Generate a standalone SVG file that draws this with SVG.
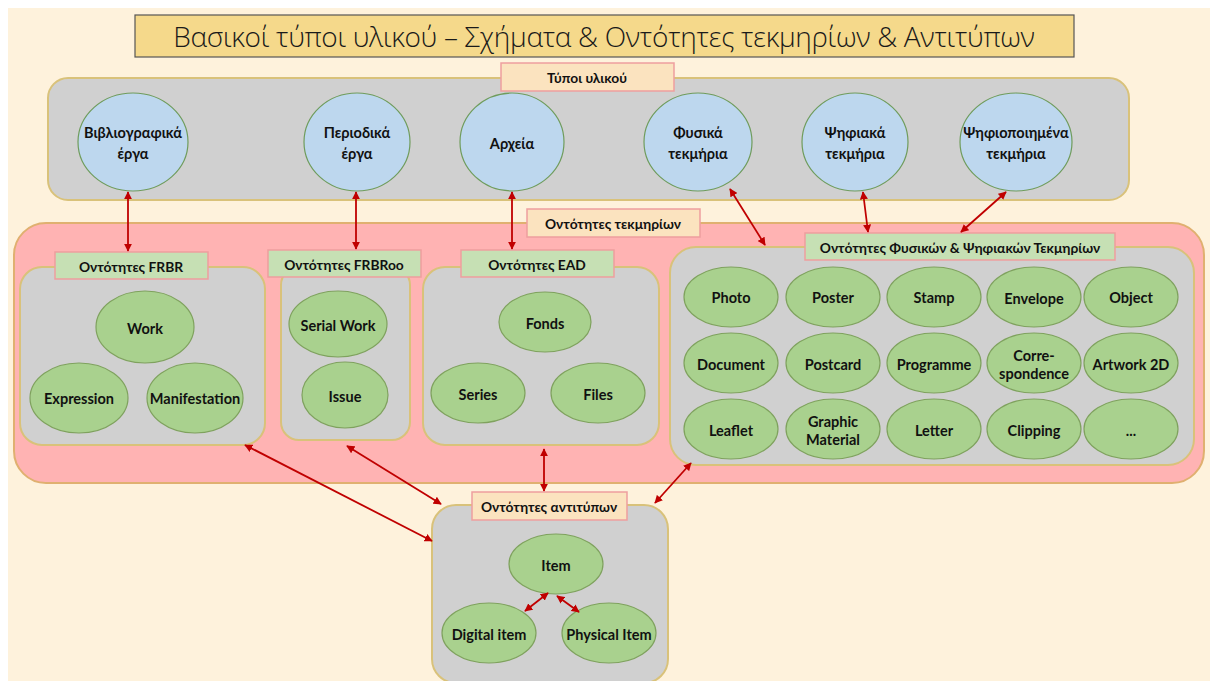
<svg xmlns="http://www.w3.org/2000/svg" width="1210" height="681" viewBox="0 0 1210 681">
<style>
.t{font-family:Lato,"Open Sans","Liberation Sans",sans-serif;font-weight:bold;font-size:14.5px;fill:#111;text-anchor:middle;dominant-baseline:central}
.lbl{font-family:Lato,"Open Sans","Liberation Sans",sans-serif;font-weight:bold;font-size:13.8px;fill:#111;text-anchor:middle;dominant-baseline:central}
.panel{fill:#D0D0D0;stroke:#D9C27A;stroke-width:2}
.blue{fill:#BDD7EE;stroke:#6F9C5C;stroke-width:1.2}
.green{fill:#A9D18E;stroke:#7FA25E;stroke-width:1.2}
.lbo{fill:#FBE3BF;stroke:#EE9E9E;stroke-width:1.5}
.lbg{fill:#C6E0B4;stroke:#EE9E9E;stroke-width:1.5}
.c{stroke:#C00000;stroke-width:1.8;fill:none;marker-start:url(#a);marker-end:url(#a)}
</style>
<defs>
<marker id="a" viewBox="0 0 10 10" refX="9" refY="5" markerWidth="4.5" markerHeight="4.5" orient="auto-start-reverse"><path d="M0,0L10,5L0,10z" fill="#C00000"/></marker>
</defs>
<rect x="0" y="0" width="1210" height="681" fill="#FFFFFF"/>
<rect x="8" y="8" width="1202" height="673" fill="#FEF2DC"/>

<g id="title">
<rect x="135" y="15" width="939" height="42" fill="#F5D98B" stroke="#555" stroke-width="1.2"/>
<text x="604" y="36" style="font-family:'Open Sans','Liberation Sans',sans-serif;font-weight:300;font-size:28px;fill:#1a1a1a;text-anchor:middle;dominant-baseline:central;letter-spacing:-0.3px">Βασικοί τύποι υλικού – Σχήματα &amp; Οντότητες τεκμηρίων &amp; Αντιτύπων</text>
</g>

<g id="types-panel">
<rect class="panel" x="48" y="78" width="1081" height="122" rx="20"/>
<rect class="lbo" x="501" y="63" width="173" height="28"/>
<text class="lbl" x="587" y="77">Τύποι υλικού</text>
</g>
<g id="biblio"><ellipse class="blue" cx="133" cy="142" rx="55" ry="49"/><text class="t" x="133" y="132">Βιβλιογραφικά</text><text class="t" x="133" y="153">έργα</text></g>
<g id="periodika"><ellipse class="blue" cx="357" cy="142" rx="53" ry="49"/><text class="t" x="357" y="132">Περιοδικά</text><text class="t" x="357" y="153">έργα</text></g>
<g id="archeia"><ellipse class="blue" cx="512" cy="142" rx="52" ry="49"/><text class="t" x="512" y="143">Αρχεία</text></g>
<g id="fysika"><ellipse class="blue" cx="698" cy="142" rx="54" ry="49"/><text class="t" x="698" y="132">Φυσικά</text><text class="t" x="698" y="153">τεκμήρια</text></g>
<g id="psifiaka"><ellipse class="blue" cx="855" cy="142" rx="53" ry="49"/><text class="t" x="855" y="132">Ψηφιακά</text><text class="t" x="855" y="153">τεκμήρια</text></g>
<g id="psifiopoiimena"><ellipse class="blue" cx="1016" cy="142" rx="56" ry="49"/><text class="t" x="1016" y="132">Ψηφιοποιημένα</text><text class="t" x="1016" y="153">τεκμήρια</text></g>

<g id="entities-panel">
<rect x="14" y="223" width="1190" height="260" rx="32" fill="#FFB3B3" stroke="#E0B070" stroke-width="2"/>
<rect class="lbo" x="527" y="209" width="173" height="28"/>
<text class="lbl" x="613" y="223">Οντότητες τεκμηρίων</text>
</g>

<g id="frbr">
<rect class="panel" x="20" y="267" width="245" height="178" rx="22"/>
<rect class="lbg" x="55" y="252" width="153" height="27"/>
<text class="lbl" x="131" y="266">Οντότητες FRBR</text>
<ellipse class="green" cx="145" cy="327" rx="49" ry="36"/><text class="t" x="145" y="328">Work</text>
<ellipse class="green" cx="79" cy="398" rx="49" ry="35"/><text class="t" x="79" y="398">Expression</text>
<ellipse class="green" cx="195" cy="398" rx="48" ry="35"/><text class="t" x="195" y="398">Manifestation</text>
</g>

<g id="frbroo">
<rect class="panel" x="281" y="267" width="129" height="173" rx="18"/>
<rect class="lbg" x="268" y="250" width="153" height="27"/>
<text class="lbl" x="344" y="264">Οντότητες FRBRoo</text>
<ellipse class="green" cx="338" cy="324" rx="49" ry="33"/><text class="t" x="338" y="325">Serial Work</text>
<ellipse class="green" cx="345" cy="395" rx="43" ry="33"/><text class="t" x="345" y="396">Issue</text>
</g>

<g id="ead">
<rect class="panel" x="423" y="267" width="236" height="178" rx="22"/>
<rect class="lbg" x="461" y="250" width="153" height="27"/>
<text class="lbl" x="537" y="264">Οντότητες EAD</text>
<ellipse class="green" cx="545" cy="322" rx="46" ry="30"/><text class="t" x="545" y="323">Fonds</text>
<ellipse class="green" cx="478" cy="393" rx="47" ry="30"/><text class="t" x="478" y="394">Series</text>
<ellipse class="green" cx="598" cy="393" rx="47" ry="30"/><text class="t" x="598" y="394">Files</text>
</g>

<g id="physical-digital">
<rect class="panel" x="670" y="247" width="524" height="218" rx="26"/>
<rect class="lbg" x="805" y="233" width="310" height="27"/>
<text class="lbl" x="960" y="247">Οντότητες Φυσικών &amp; Ψηφιακών Τεκμηρίων</text>
<ellipse class="green" cx="731" cy="297" rx="47" ry="30"/><text class="t" x="731" y="297">Photo</text>
<ellipse class="green" cx="833" cy="297" rx="47" ry="30"/><text class="t" x="833" y="297">Poster</text>
<ellipse class="green" cx="934" cy="297" rx="47" ry="30"/><text class="t" x="934" y="297">Stamp</text>
<ellipse class="green" cx="1034" cy="297" rx="47" ry="30"/><text class="t" x="1034" y="298">Envelope</text>
<ellipse class="green" cx="1131" cy="297" rx="47" ry="30"/><text class="t" x="1131" y="297">Object</text>
<ellipse class="green" cx="731" cy="363" rx="47" ry="30"/><text class="t" x="731" y="364">Document</text>
<ellipse class="green" cx="833" cy="363" rx="47" ry="30"/><text class="t" x="833" y="364">Postcard</text>
<ellipse class="green" cx="934" cy="363" rx="47" ry="30"/><text class="t" x="934" y="364">Programme</text>
<ellipse class="green" cx="1034" cy="363" rx="47" ry="30"/><text class="t" x="1034" y="355">Corre-</text><text class="t" x="1034" y="373">spondence</text>
<ellipse class="green" cx="1131" cy="363" rx="47" ry="30"/><text class="t" x="1131" y="364">Artwork 2D</text>
<ellipse class="green" cx="731" cy="429" rx="47" ry="30"/><text class="t" x="731" y="430">Leaflet</text>
<ellipse class="green" cx="833" cy="429" rx="47" ry="30"/><text class="t" x="833" y="421">Graphic</text><text class="t" x="833" y="439">Material</text>
<ellipse class="green" cx="934" cy="429" rx="47" ry="30"/><text class="t" x="934" y="430">Letter</text>
<ellipse class="green" cx="1034" cy="429" rx="47" ry="30"/><text class="t" x="1034" y="430">Clipping</text>
<ellipse class="green" cx="1131" cy="429" rx="47" ry="30"/><text class="t" x="1131" y="430">...</text>
</g>

<g id="items">
<rect class="panel" x="432" y="505" width="236" height="178" rx="24"/>
<rect class="lbo" x="472" y="492" width="155" height="28"/>
<text class="lbl" x="549" y="506">Οντότητες αντιτύπων</text>
<ellipse class="green" cx="556" cy="564" rx="47" ry="30"/><text class="t" x="556" y="565">Item</text>
<ellipse class="green" cx="489" cy="633" rx="47" ry="30"/><text class="t" x="489" y="634">Digital item</text>
<ellipse class="green" cx="609" cy="633" rx="47" ry="30"/><text class="t" x="609" y="634">Physical Item</text>
</g>

<g id="connectors">
<line class="c" x1="128" y1="192" x2="128" y2="251"/>
<line class="c" x1="356" y1="192" x2="356" y2="249"/>
<line class="c" x1="512" y1="192" x2="512" y2="249"/>
<line class="c" x1="730" y1="189" x2="765" y2="245"/>
<line class="c" x1="863" y1="192" x2="868" y2="232"/>
<line class="c" x1="1006" y1="192" x2="961" y2="232"/>
<line class="c" x1="245" y1="445" x2="432" y2="541"/>
<line class="c" x1="347" y1="446" x2="441" y2="504"/>
<line class="c" x1="544" y1="449" x2="544" y2="491"/>
<line class="c" x1="691" y1="463" x2="655" y2="503"/>
<line class="c" x1="548" y1="593" x2="525" y2="611"/>
<line class="c" x1="557" y1="596" x2="579" y2="612"/>
</g>
</svg>
